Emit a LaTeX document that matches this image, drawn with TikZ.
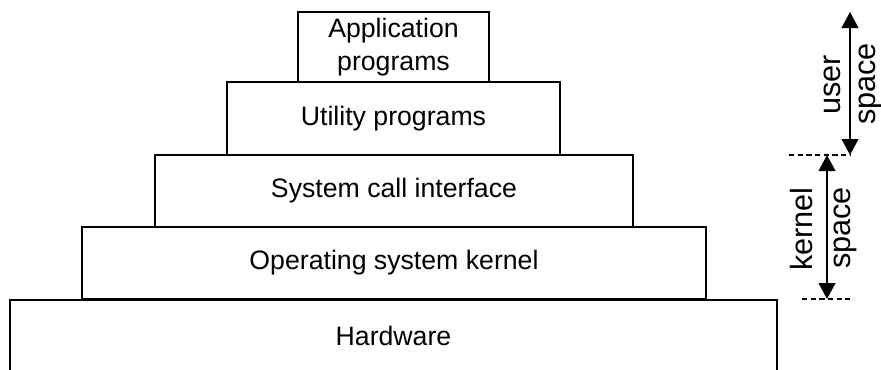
\documentclass[tikz,border=0pt]{standalone}
\usepackage{fontspec}
\setmainfont{Liberation Sans}
\usetikzlibrary{arrows.meta}
\begin{document}
\begin{tikzpicture}[x=0.75pt,y=-0.75pt,
  layer/.style={draw,line width=1.5pt,rectangle,inner sep=0pt,align=center,
    font=\fontsize{20}{25}\selectfont},
  lbl/.style={rotate=90,inner sep=0pt,font=\fontsize{23}{26}\selectfont},
  span/.style={line width=1.4pt,{Triangle[length=12pt,width=12.5pt]}-{Triangle[length=12pt,width=12.5pt]}},
  bound/.style={line width=1.1pt,dash pattern=on 4pt off 2.5pt}]
\useasboundingbox (0,0) rectangle (881,369);
\clip (0,0) rectangle (881,369);
% software / hardware layers, stacked as a pyramid
\node[layer,minimum width=191*0.75pt,minimum height=70*0.75pt] (app) at (393.5,47) {Application\\programs};
\node[layer,minimum width=333*0.75pt,minimum height=73*0.75pt] (util) at (393.5,118.5) {Utility programs};
\node[layer,minimum width=478*0.75pt,minimum height=72*0.75pt] (sci) at (394,191) {System call interface};
\node[layer,minimum width=624*0.75pt,minimum height=72*0.75pt] (os) at (394,263) {Operating system kernel};
\node[layer,minimum width=767*0.75pt,minimum height=72*0.75pt] (hw) at (393.5,336) {Hardware};
% boundaries between user space and kernel space
\coordinate (ub0) at (789,155);
\coordinate (ub1) at (850,155);
\coordinate (kb0) at (802,299);
\coordinate (kb1) at (850,299);
\draw[bound] (ub0) -- (ub1);
\draw[bound] (kb0) -- (kb1);
% extent arrows
\coordinate (utop) at (850,12);
\coordinate (ktop) at (827,155);
\coordinate (kbot) at (827,299);
\draw[span] (utop) -- (ub1);
\draw[span] (ktop) -- (kbot);
% rotated labels
\node[lbl] (u1) at (832,85) {user};
\node[lbl] (u2) at (870,84) {space};
\node[lbl] (k1) at (802,229) {kernel};
\node[lbl] (k2) at (845,228) {space};
\end{tikzpicture}
\end{document}
